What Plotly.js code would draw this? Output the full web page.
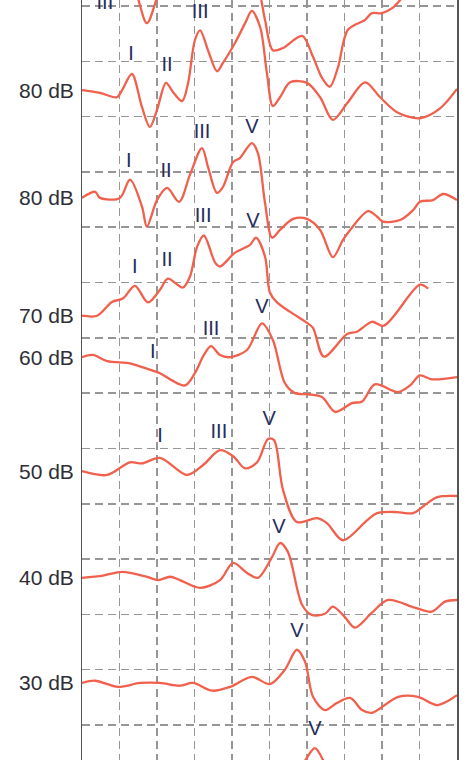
<!DOCTYPE html>
<html><head><meta charset="utf-8">
<script src="https://cdn.plot.ly/plotly-3.0.1.min.js"></script>
<style>html,body{margin:0;padding:0;background:#fff}#chart{width:465px;height:760px}</style>
</head><body><div id="chart"></div>
<script>
// Time in ms; amplitudes in grid divisions relative to each trace's baseline
const levelLabels = ["90 dB","80 dB","80 dB","70 dB","60 dB","50 dB","40 dB","30 dB","20 dB"];
const baselines   = [13.47, 11.48, 9.53, 7.40, 6.65, 4.59, 2.66, 0.76, -1.18];

const t90 = [0,0.61,1.15,1.41,1.73,2.03,2.35,2.88,3.68,4.35,4.69,4.88,5.09,5.36,5.87,6.16,6.40,6.61,6.83,7.09,7.55,7.73,8.00,8.27,8.53,9.01,10];
const a90 = [0,0.14,0.04,-0.18,-0.78,-0.27,0.18,0.54,0.45,0.18,-0.14,-0.72,-1.27,-1.23,-1.01,-1.39,-1.77,-1.93,-1.57,-0.90,-0.72,-0.60,-0.60,-0.51,-0.33,0,0.27];

const t80a = [0,0.48,0.93,1.07,1.33,1.60,1.81,2.00,2.24,2.43,2.67,2.83,3.01,3.15,3.36,3.60,3.76,4.08,4.35,4.53,4.75,4.93,5.09,5.28,5.55,6.00,6.35,6.69,7.07,7.55,7.95,8.40,9.01,9.55,10];
const a80a = [0,-0.05,-0.13,0,0.29,-0.31,-0.67,-0.36,0.13,-0.04,-0.20,0.13,0.90,1.08,0.72,0.34,0.49,0.85,1.21,1.43,1.14,0.31,-0.29,-0.13,0.14,0.13,-0.13,-0.54,-0.24,0.14,-0.13,-0.40,-0.51,-0.33,0.02];

const t80b = [0,0.35,0.48,1.01,1.28,1.60,1.73,2.00,2.27,2.59,2.88,3.20,3.36,3.60,3.76,4.03,4.21,4.53,4.69,4.88,5.07,5.28,5.63,6.00,6.35,6.69,6.96,7.15,7.63,7.87,8.03,8.48,8.83,9.01,9.36,9.63,10];
const a80b = [0,0.11,0,0,0.33,-0.16,-0.52,-0.04,0.18,-0.07,0.42,0.90,0.56,0.09,0.20,0.65,0.72,0.99,0.81,-0.09,-0.72,-0.58,-0.38,-0.38,-0.58,-1.07,-0.76,-0.58,-0.24,-0.34,-0.43,-0.40,-0.22,-0.07,-0.04,0.07,-0.04];

const t70 = [0,0.40,0.80,1.09,1.41,1.76,2.08,2.29,2.69,2.88,3.07,3.25,3.55,3.68,4.08,4.48,4.64,4.88,5.01,5.20,5.55,6.00,6.16,6.45,7.07,7.33,7.73,8.05,9.01,9.23];
const a70 = [0,0,0.25,0.31,0.54,0.24,0.47,0.67,0.51,0.71,1.25,1.45,0.96,0.89,1.14,1.28,1.41,1.07,0.42,0.24,0.07,-0.13,-0.22,-0.74,-0.33,-0.29,-0.11,-0.18,0.56,0.49];

const t60 = [0,0.29,0.67,1.28,1.60,2.08,2.40,2.75,3.01,3.25,3.44,3.68,3.95,4.40,4.80,5.09,5.41,5.68,6.03,6.40,6.75,7.20,7.47,7.81,8.43,8.75,9.01,9.33,10];
const a60 = [0,0.04,-0.07,-0.11,-0.18,-0.29,-0.42,-0.51,-0.29,0.04,0.20,0.04,0,0.13,0.61,0.31,-0.47,-0.65,-0.67,-0.72,-0.99,-0.83,-0.80,-0.49,-0.63,-0.51,-0.33,-0.40,-0.36];

const t50 = [0,0.67,1.28,1.60,2.08,2.80,3.23,3.68,4.03,4.35,4.67,4.96,5.12,5.36,5.73,6.27,6.53,6.96,7.60,7.87,8.40,8.83,9.15,9.47,10];
const a50 = [0,-0.07,0.16,0.14,0.24,-0.07,0.11,0.38,0.27,0.05,0.16,0.58,0.56,-0.34,-0.92,-0.85,-0.94,-1.25,-0.89,-0.76,-0.74,-0.76,-0.61,-0.47,-0.45];

const t40 = [0,0.56,1.07,1.73,2.03,2.35,2.61,3.15,3.68,4.03,4.40,4.69,5.07,5.28,5.49,5.87,6.13,6.48,6.69,7.01,7.28,7.73,8.16,8.88,9.33,9.68,10];
const a40 = [0,0.04,0.11,0.02,-0.04,0.02,-0.04,-0.18,-0.04,0.27,0.09,0,0.38,0.63,0.47,-0.49,-0.67,-0.65,-0.52,-0.71,-0.90,-0.63,-0.40,-0.54,-0.61,-0.43,-0.40];

const t30 = [0,0.35,0.96,1.55,2.08,2.61,2.96,3.47,3.95,4.53,5.01,5.41,5.73,5.95,6.16,6.48,6.80,7.15,7.47,7.73,8.43,8.96,9.47,10];
const a30 = [0,0.04,-0.07,0,0,-0.05,0,-0.14,-0.07,0.11,-0.02,0.24,0.60,0.38,-0.25,-0.49,-0.36,-0.27,-0.49,-0.54,-0.25,-0.25,-0.40,-0.22];

const t20 = [0,1.81,3.68,5.01,5.68,5.95,6.21,6.43,6.67,7.15,8.48,10];
const a20 = [0,0.04,-0.04,0.04,0.27,0.54,0.76,0.54,0.09,-0.18,-0.09,-0.04];

const peakNames  = ["III","I","II","III","I","II","III","V","I","II","III","V","I","III","V","I","III","V","V","V","V"];
const peakTimes  = [0.61,1.31,2.27,3.15,1.25,2.24,3.20,4.53,1.41,2.27,3.23,4.56,1.89,3.44,4.80,2.08,3.65,4.99,5.25,5.73,6.21];
const peakLabelY = [13.03,12.12,11.92,12.88,10.18,10.00,10.71,10.80,8.26,8.39,9.19,9.10,6.73,7.14,7.54,5.21,5.28,5.52,3.56,1.68,-0.09];

const times = [t90,t80a,t80b,t70,t60,t50,t40,t30,t20];
const amps  = [a90,a80a,a80b,a70,a60,a50,a40,a30,a20];

const YR = [-0.633, 13.108];
const LINE = '#f0604d';
const GRID = '#969696';
const FONT = 'Liberation Sans, Arial, sans-serif';

const traces = times.map((t, i) => ({
  x: t, y: amps[i].map(v => v + baselines[i]),
  type: 'scatter', mode: 'lines',
  line: {color: LINE, width: 2.3, shape: 'spline', smoothing: 0.9},
  hoverinfo: 'skip', showlegend: false
}));
traces.push({
  x: peakTimes, y: peakLabelY, text: peakNames,
  type: 'scatter', mode: 'text',
  textposition: 'middle center', cliponaxis: true,
  textfont: {family: FONT, size: 20, color: '#252d5c'},
  hoverinfo: 'skip', showlegend: false
});

// level labels at the left of each trace baseline (only those inside the visible range)
const annotations = baselines.map((b, i) => ({b, i}))
  .filter(o => o.b >= YR[0] && o.b <= YR[1])
  .map(o => ({
    xref: 'paper', yref: 'y', x: 0, y: o.b, xanchor: 'right', yanchor: 'middle',
    xshift: -6, showarrow: false, text: levelLabels[o.i],
    font: {family: FONT, size: 21, color: '#2e2e36'}
  }));

const layout = {
  width: 465, height: 760,
  margin: {l: 82, r: 8, t: 0, b: 0},
  paper_bgcolor: '#fff', plot_bgcolor: '#fff',
  showlegend: false,
  annotations,
  xaxis: {range: [0, 10], tick0: 0, dtick: 1, showgrid: true, gridcolor: GRID, gridwidth: 1.5,
          griddash: '8px,5px', showticklabels: false, ticks: '', zeroline: false, showline: false, fixedrange: true},
  yaxis: {range: YR, tick0: 0, dtick: 1, showgrid: true, gridcolor: GRID, gridwidth: 1.5,
          griddash: '8px,5px', showticklabels: false, ticks: '', zeroline: false,
          showline: true, mirror: true, linecolor: '#555', linewidth: 1.5, fixedrange: true}
};
Plotly.newPlot('chart', traces, layout, {displayModeBar: false, staticPlot: true});
</script></body></html>
